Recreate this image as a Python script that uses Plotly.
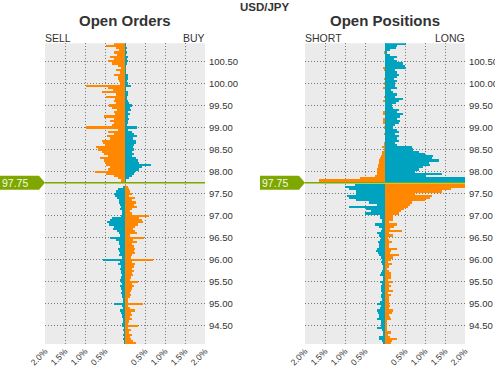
import plotly.graph_objects as go

# ---------------- data ----------------
PAIR = "USD/JPY"
CURRENT_PRICE = 97.75
TOP_LEVEL = 100.90
STEP = 0.05
N_LEVELS = 137
levels = [round(TOP_LEVEL - STEP * i, 2) for i in range(N_LEVELS)]

price_ticks = [94.5, 95.0, 95.5, 96.0, 96.5, 97.0, 97.5, 98.0, 98.5, 99.0, 99.5, 100.0, 100.5]
pct_ticks = [-2.0, -1.5, -1.0, -0.5, 0.0, 0.5, 1.0, 1.5, 2.0]
pct_labels = ["2.0%", "1.5%", "1.0%", "0.5%", "", "0.5%", "1.0%", "1.5%", "2.0%"]

# Open orders (% of total), SELL side (left) and BUY side (right), top level first
orders_left = [
    0.27, 0.47, 0.23, 0.15, 0.27, 0.20, 0.37, 0.28, 0.43, 0.33,
    0.18, 0.10, 0.22, 0.13, 0.27, 0.18, 0.18, 0.15, 0.12, 0.98,
    0.43, 0.30, 0.57, 0.22, 0.47, 0.25, 0.27, 0.22, 0.40, 0.33,
    0.20, 0.28, 0.25, 0.52, 0.28, 0.37, 0.27, 0.33, 0.98, 0.18,
    0.43, 0.27, 0.45, 0.37, 0.57, 0.55, 0.50, 0.72, 0.67, 0.58,
    0.52, 0.42, 0.63, 0.53, 0.50, 0.48, 0.37, 0.43, 0.75, 0.47,
    0.28, 0.17, 0.10, 0.00, 0.00, 0.04, 0.18, 0.23, 0.27, 0.25,
    0.21, 0.14, 0.16, 0.13, 0.10, 0.13, 0.07, 0.08, 0.10, 0.33,
    0.37, 0.46, 0.39, 0.27, 0.31, 0.21, 0.16, 0.12, 0.38, 0.23,
    0.14, 0.16, 0.13, 0.17, 0.14, 0.12, 0.15, 0.07, 0.54, 0.12,
    0.17, 0.10, 0.13, 0.10, 0.10, 0.08, 0.10, 0.13, 0.10, 0.08,
    0.12, 0.10, 0.08, 0.10, 0.07, 0.08, 0.05, 0.04, 0.27, 0.07,
    0.04, 0.13, 0.10, 0.08, 0.07, 0.05, 0.04, 0.07, 0.07, 0.03,
    0.05, 0.03, 0.04, 0.03, 0.04, 0.03, 0.02,
]
orders_right = [
    0.02, 0.03, 0.05, 0.03, 0.05, 0.03, 0.07, 0.05, 0.08, 0.05,
    0.03, 0.02, 0.03, 0.03, 0.08, 0.07, 0.08, 0.05, 0.07, 0.15,
    0.03, 0.03, 0.08, 0.07, 0.05, 0.05, 0.07, 0.10, 0.17, 0.13,
    0.15, 0.08, 0.12, 0.08, 0.10, 0.08, 0.07, 0.05, 0.30, 0.07,
    0.17, 0.23, 0.30, 0.20, 0.28, 0.28, 0.22, 0.20, 0.23, 0.18,
    0.22, 0.17, 0.28, 0.33, 0.35, 0.65, 0.42, 0.35, 0.25, 0.22,
    0.17, 0.10, 0.03, 0.00, 0.02, 0.07, 0.09, 0.13, 0.18, 0.10,
    0.26, 0.18, 0.28, 0.22, 0.29, 0.18, 0.12, 0.17, 0.59, 0.36,
    0.43, 0.46, 0.32, 0.26, 0.19, 0.25, 0.29, 0.13, 0.48, 0.19,
    0.29, 0.18, 0.23, 0.25, 0.22, 0.25, 0.17, 0.15, 0.71, 0.18,
    0.25, 0.23, 0.18, 0.23, 0.17, 0.20, 0.15, 0.12, 0.32, 0.17,
    0.22, 0.18, 0.15, 0.12, 0.15, 0.12, 0.07, 0.08, 0.46, 0.08,
    0.12, 0.25, 0.15, 0.18, 0.12, 0.17, 0.10, 0.07, 0.33, 0.08,
    0.15, 0.10, 0.18, 0.13, 0.15, 0.20, 0.28,
]

# Open positions (% of total), SHORT side (left) and LONG side (right)
positions_left = [
    0.00, 0.00, 0.00, 0.00, 0.03, 0.00, 0.00, 0.00, 0.00, 0.00,
    0.00, 0.04, 0.03, 0.00, 0.00, 0.00, 0.03, 0.00, 0.03, 0.00,
    0.04, 0.00, 0.00, 0.00, 0.03, 0.00, 0.06, 0.00, 0.00, 0.00,
    0.00, 0.04, 0.04, 0.00, 0.04, 0.06, 0.04, 0.00, 0.03, 0.00,
    0.00, 0.03, 0.00, 0.00, 0.00, 0.03, 0.03, 0.08, 0.03, 0.08,
    0.07, 0.10, 0.12, 0.16, 0.16, 0.17, 0.18, 0.20, 0.21, 0.21,
    0.24, 0.62, 1.64, 0.00, 0.74, 0.99, 0.91, 0.73, 0.73, 0.96,
    0.89, 0.73, 0.39, 0.21, 0.91, 0.48, 0.35, 0.49, 0.12, 0.12,
    0.08, 0.08, 0.24, 0.16, 0.08, 0.10, 0.21, 0.16, 0.10, 0.13,
    0.17, 0.14, 0.14, 0.21, 0.23, 0.18, 0.14, 0.10, 0.08, 0.09,
    0.08, 0.06, 0.06, 0.08, 0.10, 0.13, 0.06, 0.04, 0.12, 0.08,
    0.09, 0.10, 0.11, 0.08, 0.09, 0.11, 0.08, 0.13, 0.19, 0.11,
    0.13, 0.19, 0.17, 0.16, 0.14, 0.19, 0.11, 0.09, 0.09, 0.19,
    0.08, 0.06, 0.06, 0.16, 0.16, 0.08, 0.06,
]
positions_right = [
    0.53, 0.29, 0.28, 0.13, 0.06, 0.13, 0.31, 0.23, 0.29, 0.44,
    0.50, 0.53, 0.25, 0.31, 0.36, 0.29, 0.23, 0.29, 0.25, 0.25,
    0.31, 0.14, 0.19, 0.31, 0.25, 0.44, 0.36, 0.28, 0.17, 0.19,
    0.36, 0.31, 0.44, 0.38, 0.29, 0.38, 0.36, 0.25, 0.21, 0.29,
    0.34, 0.24, 0.34, 0.31, 0.34, 0.25, 0.30, 0.68, 0.71, 0.84,
    1.00, 1.21, 1.18, 1.34, 1.11, 1.13, 0.96, 0.86, 0.75, 1.43,
    1.03, 2.20, 2.20, 0.00, 2.20, 2.10, 1.65, 1.43, 0.76, 1.18,
    1.13, 1.01, 0.68, 0.63, 0.57, 0.47, 0.40, 0.36, 0.21, 0.21,
    0.21, 0.11, 0.29, 0.23, 0.13, 0.43, 0.11, 0.21, 0.07, 0.11,
    0.17, 0.11, 0.11, 0.29, 0.15, 0.13, 0.36, 0.19, 0.15, 0.07,
    0.17, 0.09, 0.06, 0.09, 0.15, 0.16, 0.15, 0.08, 0.19, 0.09,
    0.16, 0.09, 0.19, 0.08, 0.16, 0.09, 0.11, 0.09, 0.09, 0.13,
    0.11, 0.21, 0.18, 0.09, 0.13, 0.16, 0.06, 0.04, 0.05, 0.04,
    0.04, 0.16, 0.08, 0.12, 0.31, 0.18, 0.16,
]

for arr in (orders_left, orders_right, positions_left, positions_right):
    assert len(arr) == N_LEVELS, len(arr)

# ---------------- style ----------------
ORANGE = "#ff8800"
TEAL = "#00a3bf"
GREEN = "#7ea800"
TEXT = "#333333"
FONT = "Arial, Liberation Sans, sans-serif"
W, H = 495, 366

# pixel layout of the two plot areas
LEFT_DOM = [45 / W, 205 / W]
RIGHT_DOM = [305 / W, 465 / W]
Y_DOM = [1 - 344 / H, 1 - 43.3 / H]
Y_RANGE = [94.09, 100.91]

left_colors = [ORANGE if p > CURRENT_PRICE else TEAL for p in levels]
right_colors = [TEAL if p > CURRENT_PRICE else ORANGE for p in levels]

fig = go.Figure()


def add_panel(left_vals, right_vals, xa, ya):
    fig.add_trace(go.Bar(
        y=levels, x=[-v for v in left_vals], orientation="h", width=STEP,
        marker=dict(color=left_colors, line=dict(width=0)),
        xaxis=xa, yaxis=ya, hoverinfo="skip"))
    fig.add_trace(go.Bar(
        y=levels, x=right_vals, orientation="h", width=STEP,
        marker=dict(color=right_colors, line=dict(width=0)),
        xaxis=xa, yaxis=ya, hoverinfo="skip"))


add_panel(orders_left, orders_right, "x", "y")
add_panel(positions_left, positions_right, "x2", "y2")

GRID = "#7a7a7a"
xaxis_common = dict(
    range=[-2, 2], tickvals=pct_ticks, ticktext=pct_labels, tickangle=-45,
    tickfont=dict(size=8.5, color=TEXT, family=FONT), showgrid=True,
    gridcolor=GRID, griddash="1px,2px", gridwidth=1, zeroline=False,
    showline=False, ticks="", fixedrange=True, automargin=False)
yaxis_common = dict(
    range=Y_RANGE, domain=Y_DOM, tickvals=price_ticks,
    ticktext=["%.2f" % t for t in price_ticks], side="right",
    tickfont=dict(size=9.5, color=TEXT, family=FONT), showgrid=True,
    gridcolor=GRID, griddash="1px,2px", gridwidth=1, zeroline=False,
    showline=False, ticks="", fixedrange=True, ticklabelstandoff=3,
    automargin=False)

fig.update_layout(
    template="none",
    width=W, height=H, margin=dict(l=0, r=0, t=0, b=0, pad=0),
    paper_bgcolor="white", plot_bgcolor="#ebebeb",
    barmode="overlay", bargap=0, showlegend=False, hovermode=False,
    font=dict(family=FONT, color=TEXT),
    xaxis=dict(domain=LEFT_DOM, anchor="y", **xaxis_common),
    yaxis=dict(anchor="x", **yaxis_common),
    xaxis2=dict(domain=RIGHT_DOM, anchor="y2", **xaxis_common),
    yaxis2=dict(anchor="x2", **yaxis_common),
)

ann = []
ann.append(dict(text="<b>%s</b>" % PAIR, x=265 / W, y=1 - 7 / H, xref="paper", yref="paper",
                xanchor="center", yanchor="middle", showarrow=False,
                font=dict(size=11.5, color=TEXT, family=FONT)))
for title, dom in (("Open Orders", LEFT_DOM), ("Open Positions", RIGHT_DOM)):
    ann.append(dict(text="<b>%s</b>" % title, x=(dom[0] + dom[1]) / 2, y=1 - 20.5 / H,
                    xref="paper", yref="paper", xanchor="center", yanchor="middle",
                    showarrow=False, font=dict(size=15, color=TEXT, family=FONT)))
for ltxt, rtxt, dom in (("SELL", "BUY", LEFT_DOM), ("SHORT", "LONG", RIGHT_DOM)):
    ann.append(dict(text=ltxt, x=dom[0], y=1 - 38.5 / H, xref="paper", yref="paper",
                    xanchor="left", yanchor="middle", showarrow=False, xshift=-2,
                    font=dict(size=10.5, color=TEXT, family=FONT)))
    ann.append(dict(text=rtxt, x=dom[1], y=1 - 38.5 / H, xref="paper", yref="paper",
                    xanchor="right", yanchor="middle", showarrow=False, xshift=2,
                    font=dict(size=10.5, color=TEXT, family=FONT)))

shapes = []
for dom, ya in ((LEFT_DOM, "y"), (RIGHT_DOM, "y2")):
    xd = "x domain" if ya == "y" else "x2 domain"
    shapes.append(dict(type="line", xref=xd, x0=0, x1=1, yref=ya,
                       y0=CURRENT_PRICE, y1=CURRENT_PRICE,
                       line=dict(color=GREEN, width=1.5), layer="above"))
    shapes.append(dict(type="path", xref="paper", xsizemode="pixel", xanchor=dom[0],
                       yref=ya, ysizemode="pixel", yanchor=CURRENT_PRICE,
                       path="M -45,-7 L -6,-7 L 0,0 L -6,7 L -45,7 Z",
                       fillcolor=GREEN, line=dict(width=0), layer="above"))
    ann.append(dict(text="%.2f" % CURRENT_PRICE, x=dom[0], xref="paper", xanchor="left",
                    xshift=-45, y=CURRENT_PRICE, yref=ya, yanchor="middle",
                    showarrow=False, font=dict(size=10.5, color="#f4f8ea", family=FONT)))

fig.update_layout(annotations=ann, shapes=shapes)
fig.write_html(
    "out.html",
    include_plotlyjs=True,
    config={"displayModeBar": False, "staticPlot": True},
    post_script="document.body.style.margin='0';document.body.style.padding='0';",
)
